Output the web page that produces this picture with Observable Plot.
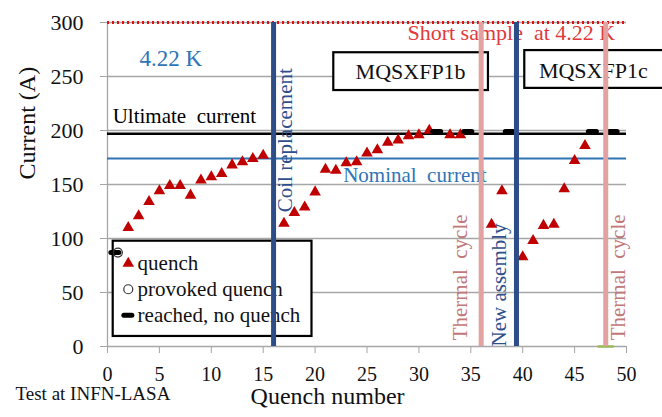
<!DOCTYPE html>
<html><head><meta charset="utf-8">
<script src="https://cdn.jsdelivr.net/npm/d3@7"></script>
<script src="https://cdn.jsdelivr.net/npm/@observablehq/plot@0.6"></script>
<style>
html,body{margin:0;padding:0;background:#fff;}
#chart svg{display:block;}
#chart svg text{font-family:"Liberation Serif","Times New Roman",serif !important;}
</style>
</head><body><div id="chart"></div>
<script>
// ---- data ----
const quenchNumber  = [2,3,4,5,6,7,8,9,10,11,12,13,14,15,17,18,19,20,21,22,23,24,25,26,27,28,29,30,31,33,34,37,38,40,41,42,43,44,45,46];
const quenchCurrent = [110,121,134,144,149,149,140,154,157,160,168,171,174,177,114,124,129,143,164,163,170,171,179,182,189,191,195,196,200,196,196,113,144,83,98,112,113,146,172,186];
const provokedNumber  = [1];
const provokedCurrent = [87];
const reachedNumber  = [1,32,35,39,47,49];
const reachedCurrent = [87,199,199,199,199,199];
const otherNumber  = [48];
const otherCurrent = [0];
const ultimateCurrent = [197];
const nominalCurrent  = [174];
const shortSampleCurrent = [300];
const eventNumber = [16,36,39.4,48];
const eventKind   = ["assembly","thermal","assembly","thermal"];
const eventLabel  = ["Coil replacement","Thermal\u00a0 cycle","New assembly","Thermal\u00a0 cycle"];
const eventLabelNumber  = [17.1,34.0,37.7,49.2];
const eventLabelCurrent = [191,64,57,64];
const xTicks = [0,5,10,15,20,25,30,35,40,45,50];
const yTicks = [0,50,100,150,200,250,300];
const magnetNames = ["MQSXFP1b","MQSXFP1c"];
const magnetBoxX1 = [21.8,40.2], magnetBoxX2 = [36.7,53.6];
const magnetBoxY1 = [237,239],  magnetBoxY2 = [272,274];
const magnetTextX = [29.2,46.8], magnetTextY = [254.5,255.5];
const legendLabels = ["quench","provoked quench","reached, no quench"];
const legendY = [77,53,29];

// ---- build tables ----
const quench = quenchNumber.map((q,i)=>({q, I: quenchCurrent[i]}));
const provoked = provokedNumber.map((q,i)=>({q, I: provokedCurrent[i]}));
const reached = reachedNumber.map((q,i)=>({q, I: reachedCurrent[i]}));
const other = otherNumber.map((q,i)=>({q, I: otherCurrent[i]}));
const events = eventNumber.map((q,i)=>({q, kind: eventKind[i], label: eventLabel[i], lq: eventLabelNumber[i], lI: eventLabelCurrent[i]}));
const magnets = magnetNames.map((n,i)=>({n, x1: magnetBoxX1[i], x2: magnetBoxX2[i], y1: magnetBoxY1[i], y2: magnetBoxY2[i], tx: magnetTextX[i], ty: magnetTextY[i]}));

const NAVY = "#2c4d88", PINK = "#e3a2a2", RED = "#c00000", BLUE = "#2e75b6", GRID = "#a6a6a6";
const FONT = "Liberation Serif";

function dash(w, h, off) {
  return {draw(ctx) {
    const r = h/2, x0 = -w/2 + off, x1 = w/2 + off;
    ctx.moveTo(x0 + r, -r);
    ctx.lineTo(x1 - r, -r);
    ctx.arc(x1 - r, 0, r, -Math.PI/2, Math.PI/2);
    ctx.lineTo(x0 + r, r);
    ctx.arc(x0 + r, 0, r, Math.PI/2, 3*Math.PI/2);
    ctx.closePath();
  }};
}
const blackDash = dash(13, 5, -3);
const greenDash = dash(17, 2.5, 0);

const colorOf = k => k === "thermal" ? PINK : NAVY;
const textColorOf = k => k === "thermal" ? "#c27878" : "#2f4f8c";
const T = {fontFamily: FONT};

const chart = Plot.plot({
  width: 662, height: 417,
  marginLeft: 107, marginRight: 36, marginTop: 22, marginBottom: 71,
  style: {fontFamily: FONT, background: "#fff", color: "#000"},
  x: {domain: [0, 50], ticks: xTicks},
  y: {domain: [0, 300], ticks: yTicks},
  marks: [
    Plot.gridY(yTicks, {stroke: GRID, strokeOpacity: 1, strokeWidth: 1.3}),
    Plot.ruleX([0], {stroke: GRID, strokeWidth: 1.3}),
    Plot.axisY(yTicks, {...T, tickSize: 7, tickPadding: 17, stroke: GRID, fontSize: 22, fill: "#111", label: null}),
    Plot.axisX(xTicks, {...T, tickSize: 7, tickPadding: 13, stroke: GRID, fontSize: 20, fill: "#111", label: null}),
    // reference lines
    Plot.ruleY(ultimateCurrent, {stroke: "#000", strokeWidth: 2.6}),
    Plot.ruleY(nominalCurrent, {stroke: BLUE, strokeWidth: 2}),
    Plot.ruleY(shortSampleCurrent, {stroke: "#e01010", strokeWidth: 3, strokeDasharray: "2,3"}),
    Plot.text(["Short sample\u00a0 at 4.22 K"], {...T, x: 38.9, y: 290, fill: "#e03a3a", fontSize: 22}),
    Plot.text(["Ultimate\u00a0 current"], {...T, x: 0.5, y: 213, textAnchor: "start", fill: "#000", fontSize: 21}),
    Plot.text(["Nominal\u00a0 current"], {...T, x: 22.7, y: 159, textAnchor: "start", fill: BLUE, fontSize: 21}),
    Plot.text(["4.22 K"], {...T, x: 6.1, y: 267, fill: BLUE, fontSize: 23}),
    // magnet boxes
    Plot.rect(magnets, {x1: "x1", x2: "x2", y1: "y1", y2: "y2", fill: "#fff", stroke: "#000", strokeWidth: 2.2}),
    Plot.text(magnets, {...T, x: "tx", y: "ty", text: "n", fontSize: 22, fill: "#111"}),
    // legend box
    Plot.rect([{x1: 0.55, x2: 19.7, y1: 9.3, y2: 97.5}], {x1: "x1", x2: "x2", y1: "y1", y2: "y2", fill: "#fff", stroke: "#000", strokeWidth: 2.2}),
    Plot.dot([{q: 2, I: legendY[0]}], {x: "q", y: "I", symbol: "triangle", r: 4.3, fill: RED}),
    Plot.dot([{q: 2, I: legendY[1]}], {x: "q", y: "I", symbol: "circle", r: 4.5, stroke: "#333", strokeWidth: 1.2, fill: "none"}),
    Plot.dot([{q: 2.25, I: legendY[2]}], {x: "q", y: "I", symbol: blackDash, fill: "#000"}),
    Plot.text(legendLabels, {...T, x: 2.9, y: (d,i) => legendY[i], textAnchor: "start", fontSize: 21, fill: "#111"}),
    // data
    Plot.dot(other, {x: "q", y: "I", symbol: greenDash, fill: "#9bbb59"}),
    Plot.dot(quench, {x: "q", y: "I", symbol: "triangle", r: 4.3, fill: RED}),
    Plot.dot(reached, {x: "q", y: "I", symbol: blackDash, fill: "#000"}),
    Plot.dot(provoked, {x: "q", y: "I", symbol: "circle", r: 4.5, stroke: "#333", strokeWidth: 1.2, fill: "none"}),
    // event lines and labels
    Plot.ruleX(events, {x: "q", y1: 0, y2: 300, stroke: d => colorOf(d.kind), strokeWidth: 5}),
    Plot.text(events, {...T, x: "lq", y: "lI", text: "label", rotate: -90, fill: d => textColorOf(d.kind), fontSize: 21}),
    // axis titles and note
    Plot.text(["Current (A)"], {...T, frameAnchor: "left", dx: -80, dy: -5, rotate: -90, fontSize: 24, fill: "#111"}),
    Plot.text(["Quench number"], {...T, x: 21.2, frameAnchor: "bottom", dy: 57, fontSize: 24, fill: "#111"}),
    Plot.text(["Test at INFN-LASA"], {...T, frameAnchor: "bottom-left", dx: -92, dy: 53, textAnchor: "start", fontSize: 19, fill: "#111"})
  ]
});
document.getElementById("chart").appendChild(chart);
</script>
</body></html>
